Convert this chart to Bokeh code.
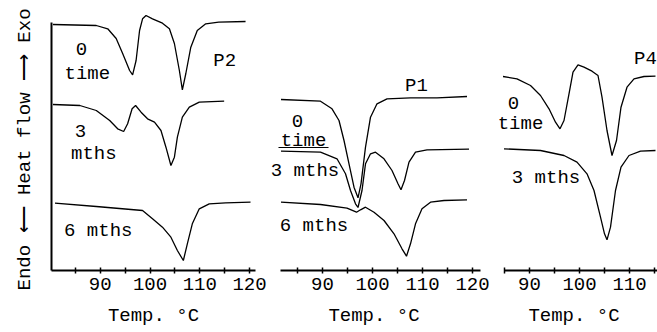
from bokeh.plotting import figure
from bokeh.layouts import row
from bokeh.models import FixedTicker, Range1d, Title
from bokeh.core.properties import value
from bokeh.embed import file_html
from bokeh.resources import INLINE

FONT = "Liberation Mono"

# ---------------- data (Temp. degC, heat flow in arbitrary stacked units) ----
# P2 panel
p2_0_T = [80.5, 89.2, 91.5, 93.2, 94.5, 95.9, 96.5, 97.2, 97.9, 98.5, 99.2, 100.5,
          102.5, 103.9, 104.9, 105.9, 106.5, 107.2, 108.2, 109.5, 111.2, 113.8, 119.2]
p2_0_h = [24.6, 24.5, 24.17, 23.2, 21.7, 20.0, 19.57, 21.0, 24.0, 25.17, 25.5, 25.17,
          24.73, 24.17, 22.7, 20.0, 18.07, 19.7, 22.33, 24.0, 24.67, 24.83, 24.9]
p2_3_T = [80.5, 85.9, 89.2, 91.9, 93.5, 94.7, 95.5, 96.4, 97.1, 98.2, 99.5, 100.9,
          102.2, 103.2, 104.2, 104.9, 105.5, 106.5, 107.9, 109.9, 114.9]
p2_3_h = [16.6, 16.5, 16.0, 15.0, 14.17, 13.9, 14.67, 16.17, 16.5, 15.83, 15.17, 14.83,
          14.0, 12.33, 10.5, 11.33, 13.33, 15.33, 16.33, 16.83, 16.93]
p2_6_T = [80.9, 89.2, 98.5, 100.5, 102.5, 104.2, 105.5, 106.7, 107.5, 108.5, 109.9,
          111.9, 115.2, 120.2]
p2_6_h = [6.73, 6.4, 6.0, 5.17, 4.33, 3.33, 2.0, 1.0, 2.67, 4.67, 6.17, 6.67, 6.77, 6.83]

# P1 panel
p1_0_T = [81.7, 89.6, 91.9, 93.3, 94.3, 95.3, 96.3, 97.1, 97.7, 98.6, 99.6, 100.9,
          102.9, 107.6, 112.9, 118.9]
p1_0_h = [17.1, 16.93, 16.17, 15.0, 13.0, 10.67, 8.33, 7.27, 8.67, 12.33, 15.33, 16.67,
          17.17, 17.27, 17.27, 17.4]
p1_3_T = [81.7, 89.6, 92.9, 94.6, 95.6, 96.6, 97.1, 97.9, 98.6, 99.6, 100.6, 102.3,
          103.9, 105.1, 105.7, 106.4, 107.3, 108.6, 110.9, 119.3]
p1_3_h = [11.93, 11.83, 11.17, 9.67, 8.0, 6.67, 6.3, 8.0, 10.67, 11.67, 11.83, 11.17,
          10.0, 8.67, 8.07, 9.0, 10.83, 11.83, 12.07, 12.13]
p1_6_T = [81.7, 89.6, 94.9, 96.8, 97.6, 98.6, 100.3, 102.3, 104.3, 105.9, 106.8, 107.6,
          108.6, 109.9, 111.6, 114.3, 118.9]
p1_6_h = [6.83, 6.6, 6.23, 5.83, 6.07, 6.33, 5.83, 5.0, 3.67, 2.17, 1.43, 2.67,
          4.67, 6.17, 6.83, 7.0, 7.07]

# P4 panel
p4_0_T = [84.7, 87.5, 90.2, 92.2, 93.9, 95.2, 96.1, 96.9, 97.9, 98.7, 99.7, 100.9,
          102.5, 103.7, 104.5, 105.5, 106.5, 107.4, 108.3, 109.5, 110.9, 112.9, 115.2]
p4_0_h = [19.4, 19.17, 18.5, 17.5, 16.17, 14.83, 14.17, 15.0, 17.67, 19.83, 20.57, 20.33,
          19.93, 19.5, 17.33, 14.0, 11.5, 13.0, 16.33, 18.33, 19.17, 19.4, 19.43]
p4_3_T = [84.9, 92.2, 96.9, 99.5, 101.5, 102.9, 104.2, 105.0, 105.5, 106.2, 107.2,
          108.3, 109.9, 112.2, 115.2]
p4_3_h = [12.17, 12.0, 11.5, 10.83, 9.67, 8.0, 5.33, 3.67, 3.07, 4.33, 8.0,
          10.33, 11.5, 11.93, 12.0]

# tick labels
major_ticks = [90, 100, 110, 120]
minor_ticks = [85, 95, 105, 115]

# annotation texts (label, T, h)
p2_labels = ["0", "time", "3", "mths", "6 mths", "P2"]
p2_lab_T = [86.2, 87.4, 86.0, 88.7, 89.6, 115.0]
p2_lab_h = [22.2, 19.7, 14.0, 11.7, 4.0, 21.0]

p1_labels = ["0", "time", "3 mths", "6 mths", "P1"]
p1_lab_T = [85.0, 86.2, 86.5, 88.3, 108.8]
p1_lab_h = [15.0, 13.0, 10.0, 4.5, 18.5]

p4_labels = ["0", "time", "3 mths", "P4"]
p4_lab_T = [86.8, 88.2, 93.3, 113.2]
p4_lab_h = [16.8, 14.7, 9.3, 21.2]

Y_RANGE = (0, 27.0)
H = 332


def make_fig(width, xr, xbounds, left, right):
    p = figure(width=width, height=H, x_range=Range1d(*xr), y_range=Range1d(*Y_RANGE),
               output_backend="svg", toolbar_location=None,
               min_border_left=left, min_border_right=right,
               min_border_top=0, min_border_bottom=62)
    p.grid.visible = False
    p.outline_line_color = None
    ax = p.xaxis[0]
    ax.bounds = xbounds
    ax.ticker = FixedTicker(ticks=major_ticks, minor_ticks=minor_ticks)
    ax.axis_line_width = 2
    ax.axis_line_color = "black"
    ax.major_tick_in = 3
    ax.major_tick_out = 3
    ax.minor_tick_in = 3
    ax.minor_tick_out = 3
    ax.major_tick_line_width = 1.5
    ax.minor_tick_line_width = 1.5
    ax.major_label_text_font = FONT
    ax.major_label_text_font_size = "19px"
    ax.major_label_text_color = "black"
    ax.major_label_standoff = 4
    ax.axis_label = "Temp. °C"
    ax.axis_label_text_font = FONT
    ax.axis_label_text_font_size = "19px"
    ax.axis_label_text_font_style = "normal"
    ax.axis_label_text_color = "black"
    ax.axis_label_standoff = 12
    return p


def add_text(p, labels, xs, ys):
    p.text(x=xs, y=ys, text=labels, text_font=value(FONT), text_font_size="19px",
           text_align="center", text_baseline="middle", text_color="black")


LW = 1.3

# ---- P2 panel (with the heat-flow axis) ----
f1 = make_fig(267, (80.2, 121.2), (80.2, 121.2), 0, 12)
ya = f1.yaxis[0]
ya.ticker = FixedTicker(ticks=[])
ya.axis_line_width = 2
ya.axis_line_color = "black"
ya.bounds = (0, 24.8)
ya.major_tick_out = 0
ya.major_tick_in = 0
ya.minor_tick_out = 0
ya.minor_tick_in = 0
ya.major_label_standoff = 0
ya.axis_label_standoff = 0
ytitle = Title(text="Endo ⟵ Heat flow ⟶ Exo", align="left", offset=-20,
               vertical_align="top",
               text_font=FONT, text_font_size="19px", text_font_style="normal",
               text_color="black", standoff=27)
f1.add_layout(ytitle, "left")
for T, h in [(p2_0_T, p2_0_h), (p2_3_T, p2_3_h), (p2_6_T, p2_6_h)]:
    f1.line(T, h, line_color="black", line_width=LW)
add_text(f1, p2_labels, p2_lab_T, p2_lab_h)

# ---- P1 panel ----
f2 = make_fig(223, (79.0, 121.6), (81.6, 121.6), 0, 10)
f2.yaxis.visible = False
for T, h in [(p1_0_T, p1_0_h), (p1_3_T, p1_3_h), (p1_6_T, p1_6_h)]:
    f2.line(T, h, line_color="black", line_width=LW)
add_text(f2, p1_labels, p1_lab_T, p1_lab_h)
# underline under "time" (P1 panel), derived from the label position
i = p1_labels.index("time")
f2.segment(x0=[p1_lab_T[i] - 5.0], x1=[p1_lab_T[i] + 5.0],
           y0=[p1_lab_h[i] - 0.7], y1=[p1_lab_h[i] - 0.7],
           line_color="black", line_width=1.2)

# ---- P4 panel ----
f3 = make_fig(167, (82.2, 115.6), (85.0, 115.6), 0, 0)
f3.yaxis.visible = False
for T, h in [(p4_0_T, p4_0_h), (p4_3_T, p4_3_h)]:
    f3.line(T, h, line_color="black", line_width=LW)
add_text(f3, p4_labels, p4_lab_T, p4_lab_h)

layout = row(f1, f2, f3)
open("out.html", "w").write(file_html(layout, INLINE))
